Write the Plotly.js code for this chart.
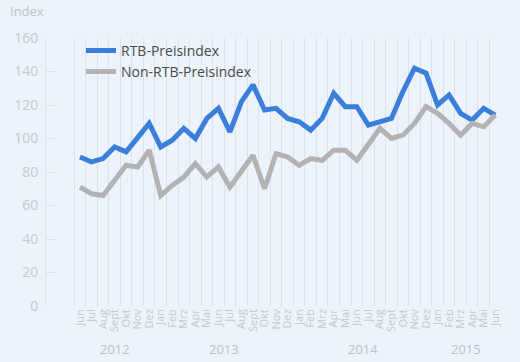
<!DOCTYPE html>
<html>
<head>
<meta charset="utf-8">
<script src="https://cdn.plot.ly/plotly-3.0.1.min.js"></script>
<style>
  html, body { margin: 0; padding: 0; background: #edf3fb; }
  #chart { width: 520px; height: 362px; }
</style>
</head>
<body>
<div id="chart"></div>
<script>
// Month labels (Jun 2012 – Jun 2015)
const months = ["Jun","Jul","Aug","Sept","Okt","Nov","Dez",
  "Jan","Feb","Mrz","Apr","Mai","Jun","Jul","Aug","Sept","Okt","Nov","Dez",
  "Jan","Feb","Mrz","Apr","Mai","Jun","Jul","Aug","Sept","Okt","Nov","Dez",
  "Jan","Feb","Mrz","Apr","Mai","Jun"];
const years = ["2012","2013","2014","2015"];
const yearCenters = [3, 12.5, 24.5, 33.5];

const rtbName = "RTB-Preisindex";
const nonRtbName = "Non-RTB-Preisindex";
const rtb = [89, 86, 88, 95, 92, 101, 109,
  95, 99, 106, 100, 112, 118, 104, 122, 132, 117, 118, 112,
  110, 105, 112, 127, 119, 119, 108, 110, 112, 128, 142, 139,
  120, 126, 115, 111, 118, 114];
const nonRtb = [71, 67, 66, 75, 84, 83, 93,
  66, 72, 77, 85, 77, 83, 71, 80, 90, 70, 91, 89,
  84, 88, 87, 93, 93, 87, 96, 106, 100, 102, 109, 119,
  115, 109, 102, 109, 107, 114];

const idx = months.map((m, i) => i);
const bounds = months.map((m, i) => i - 0.5).concat([months.length - 0.5]);

const traces = [
  { x: idx, y: rtb, name: rtbName, type: "scatter", mode: "lines",
    line: { color: "#3a7fdc", width: 5 }, legendgroup: "a", hoverinfo: "skip" },
  { x: idx, y: nonRtb, name: nonRtbName, type: "scatter", mode: "lines",
    line: { color: "#b3b3b3", width: 5 }, legendgroup: "b", hoverinfo: "skip" }
];

const annotations = years.map((y, i) => ({
  text: y, x: yearCenters[i], xref: "x", y: -0.16, yref: "paper",
  xanchor: "center", yanchor: "middle", showarrow: false,
  font: { family: "Open Sans", size: 13, color: "#bcc3cb" }
}));
annotations.push({
  text: "Index", x: -38/455, xref: "paper", y: 1.1, yref: "paper",
  xanchor: "left", yanchor: "middle", showarrow: false,
  font: { family: "Open Sans", size: 13, color: "#bcc3cb" }
});

const layout = {
  width: 520, height: 362,
  paper_bgcolor: "#edf3fb", plot_bgcolor: "#edf3fb",
  margin: { l: 46, r: 19, t: 38, b: 56 },
  font: { family: "Open Sans", color: "#bcc3cb" },
  showlegend: true,
  legend: { x: 35/455, xanchor: "left", y: 1.012, yanchor: "top",
    bgcolor: "rgba(0,0,0,0)", tracegroupgap: 0,
    font: { family: "Open Sans", size: 14, color: "#4a4a4a" } },
  xaxis: {
    type: "linear", range: [-2.946, 36.5],
    tickmode: "array", tickvals: idx, ticktext: months, tickangle: -90,
    tickfont: { family: "Open Sans", size: 11, color: "#c4cad1" },
    showgrid: false, zeroline: false, showline: false, ticks: "",
    minor: { tickmode: "array", tickvals: bounds, showgrid: true,
      gridcolor: "#dce2e9", gridwidth: 1, ticks: "" }
  },
  yaxis: {
    range: [0, 160], tickvals: [0, 20, 40, 60, 80, 100, 120, 140, 160],
    showgrid: false, zeroline: false, showline: true, linecolor: "#dde3ea", linewidth: 1,
    ticks: "inside", ticklen: 11, tickcolor: "#dde3ea", tickwidth: 1,
    ticklabelstandoff: 4,
    tickfont: { family: "Open Sans", size: 14, color: "#c4cad1" }
  },
  annotations: annotations
};

Plotly.newPlot("chart", traces, layout, { staticPlot: true, displayModeBar: false });
</script>
</body>
</html>
